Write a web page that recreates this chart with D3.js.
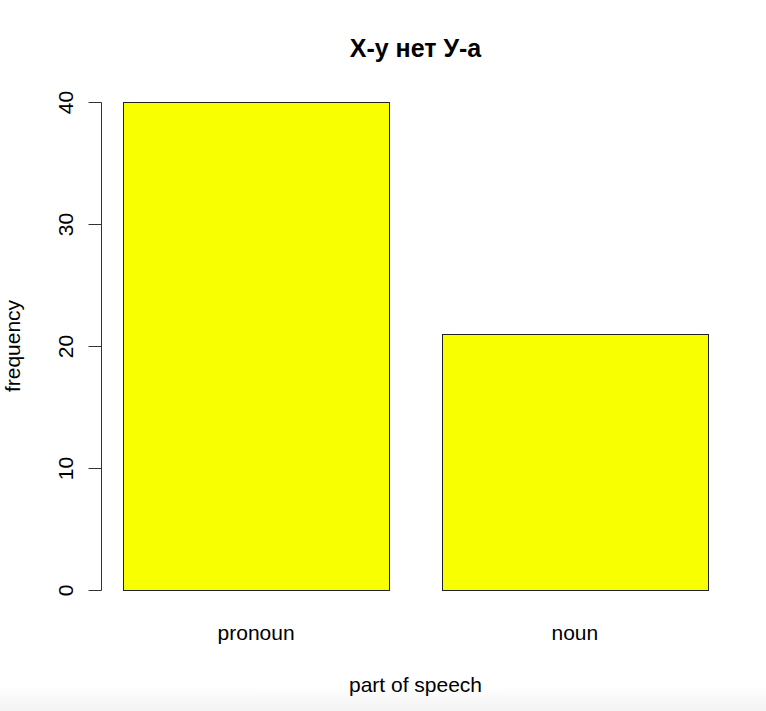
<!DOCTYPE html>
<html>
<head>
<meta charset="utf-8">
<script src="https://cdn.jsdelivr.net/npm/d3@7"></script>
<style>
  body { margin: 0; background: #fff; }
  svg { display: block; font-family: "Liberation Sans", Arial, sans-serif; }
</style>
</head>
<body>
<div id="chart"></div>
<script>
const categories = ["pronoun", "noun"];
const frequencies = [40, 21];
const yTicks = [0, 10, 20, 30, 40];
const title = "Х-у нет У-а";
const xTitle = "part of speech";
const yTitle = "frequency";

const width = 766;
const height = 711;
const fontSize = 21;

const svg = d3.select("#chart").append("svg")
    .attr("width", width)
    .attr("height", height)
    .attr("viewBox", [0, 0, width, height]);

// faint grey fade at the bottom edge of the screenshot
const grad = svg.append("defs").append("linearGradient")
    .attr("id", "fade")
    .attr("x1", 0).attr("x2", 0).attr("y1", 0).attr("y2", 1);
grad.append("stop").attr("offset", "0%").attr("stop-color", "#fff");
grad.append("stop").attr("offset", "100%").attr("stop-color", "#f3f3f3");
svg.append("rect")
    .attr("x", 0).attr("y", 686)
    .attr("width", width).attr("height", height - 686)
    .attr("fill", "url(#fade)");

const x = d3.scaleBand()
    .domain(categories)
    .range([101, 730])
    .paddingInner(1 / 6)
    .paddingOuter(0.07);

const y = d3.scaleLinear()
    .domain([0, 40])
    .range([590, 102]);

// bars
svg.append("g")
    .selectAll("rect")
    .data(categories)
    .join("rect")
    .attr("x", d => Math.round(x(d)) + 0.5)
    .attr("y", (d, i) => Math.round(y(frequencies[i])) + 0.5)
    .attr("width", Math.round(x.bandwidth()))
    .attr("height", (d, i) => Math.round(y(0)) - Math.round(y(frequencies[i])))
    .attr("fill", "#f7ff00")
    .attr("stroke", "#222")
    .attr("stroke-width", 1);

// y axis, R style: line only across the tick span
const yAxis = svg.append("g")
    .attr("transform", "translate(101.5,0)")
    .call(d3.axisLeft(y).tickValues(yTicks).tickSize(13).tickSizeOuter(0).tickPadding(0));

yAxis.select(".domain")
    .attr("d", `M0,${y(40) + 0.5}V${y(0) + 0.5}`)
    .attr("stroke", "#333");
yAxis.selectAll(".tick line").attr("stroke", "#333");
yAxis.selectAll(".tick text")
    .attr("x", null).attr("dy", null)
    .attr("transform", "translate(-29,0) rotate(-90)")
    .attr("text-anchor", "middle")
    .attr("fill", "#000")
    .attr("font-size", fontSize)
    .attr("font-family", "Liberation Sans, Arial, sans-serif");

// category labels
svg.append("g")
    .selectAll("text")
    .data(categories)
    .join("text")
    .attr("x", d => x(d) + x.bandwidth() / 2)
    .attr("y", 640)
    .attr("text-anchor", "middle")
    .attr("font-size", fontSize)
    .text(d => d);

// titles
svg.append("text")
    .attr("x", (101 + 730) / 2)
    .attr("y", 57)
    .attr("text-anchor", "middle")
    .attr("font-size", 25)
    .attr("font-weight", "bold")
    .text(title);

svg.append("text")
    .attr("x", (101 + 730) / 2)
    .attr("y", 692)
    .attr("text-anchor", "middle")
    .attr("font-size", fontSize)
    .text(xTitle);

svg.append("text")
    .attr("transform", `translate(20,${(102 + 590) / 2}) rotate(-90)`)
    .attr("text-anchor", "middle")
    .attr("font-size", fontSize)
    .text(yTitle);
</script>
</body>
</html>
